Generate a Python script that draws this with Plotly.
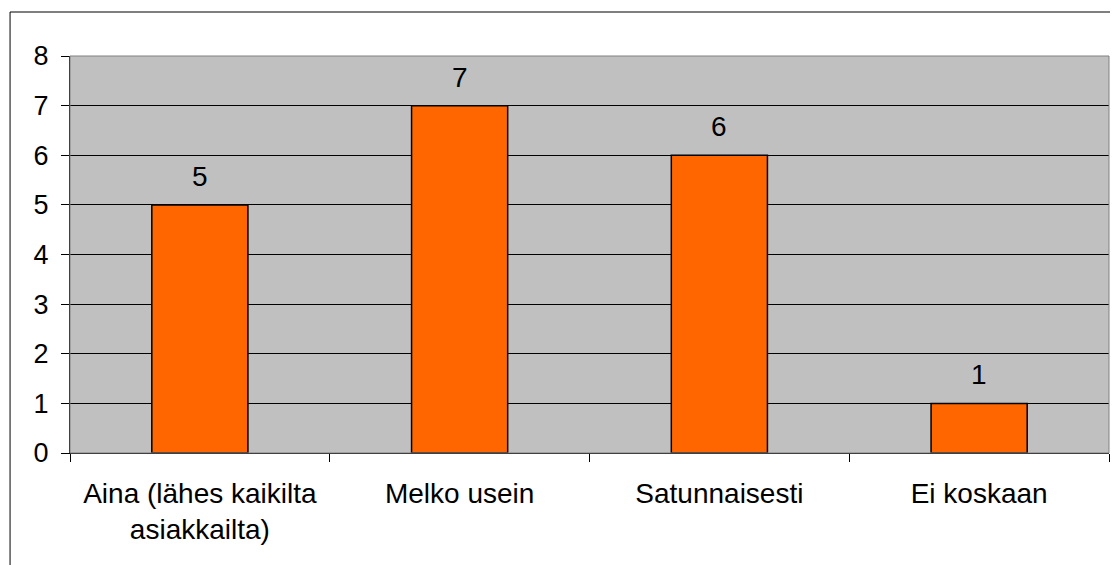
import plotly.graph_objects as go

# Data
categories = ['Aina (lähes kaikilta<br>asiakkailta)', 'Melko usein', 'Satunnaisesti', 'Ei koskaan']
counts = [5, 7, 6, 1]
y_ticks = [0, 1, 2, 3, 4, 5, 6, 7, 8]

font_family = 'Liberation Sans, Arial, sans-serif'

fig = go.Figure(go.Bar(
    x=categories,
    y=counts,
    marker=dict(color='#FF6600', line=dict(color='black', width=1.5)),
    hoverinfo='x+y',
))

# value labels above the bars
for cat, val in zip(categories, counts):
    fig.add_annotation(
        x=cat, y=val, text=str(val),
        showarrow=False, yanchor='bottom', yshift=11,
        font=dict(family=font_family, size=28, color='black'),
    )

# plot area border (gray top/right) and outer chart border
fig.add_shape(type='rect', xref='paper', yref='paper', x0=0, x1=1, y0=0, y1=1,
              line=dict(color='#808080', width=1), layer='above')
fig.add_shape(type='rect', xref='paper', yref='paper', x0=-0.0577, x1=1.2, y0=-0.6, y1=1.1108,
              line=dict(color='black', width=1), layer='above')

# page body has an 8px margin, so the figure is sized to fit the window
fig.update_layout(
    width=1110, height=557,
    margin=dict(l=62, r=9, t=48, b=112),
    paper_bgcolor='white',
    plot_bgcolor='#C0C0C0',
    bargap=0.63,
    showlegend=False,
    font=dict(family=font_family, size=28, color='black'),
    xaxis=dict(
        showline=True, linecolor='black', linewidth=1,
        ticks='outside', tickson='boundaries', ticklen=8, tickcolor='black',
        tickfont=dict(size=28), showgrid=False,
        ticklabelstandoff=15,
    ),
    yaxis=dict(
        range=[0, 8], tickvals=y_ticks,
        showline=True, linecolor='black', linewidth=1,
        ticks='outside', ticklen=8, tickcolor='black',
        tickfont=dict(size=27),
        showgrid=True, gridcolor='black', gridwidth=1,
        zeroline=False, ticklabelstandoff=7,
    ),
)

fig.write_html("out.html")
